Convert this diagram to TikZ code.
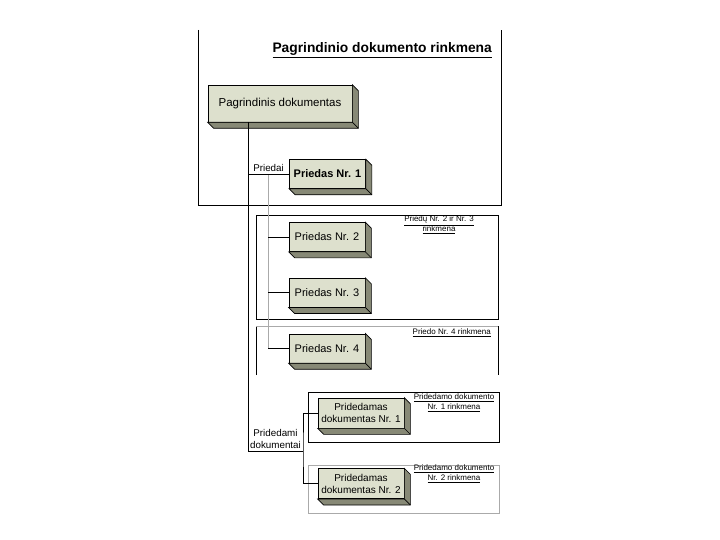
\documentclass[tikz,border=0pt]{standalone}
\usepackage{fontspec}
\setmainfont{Liberation Sans}
\usetikzlibrary{positioning,calc}
\definecolor{boxface}{RGB}{221,224,205}
\definecolor{boxside}{RGB}{135,137,118}
\definecolor{framegray}{RGB}{170,170,170}

\begin{document}
\begin{tikzpicture}[x=1pt,y=-1pt,
 every node/.style={align=center,inner sep=1pt},
 docbox/.style={draw,fill=boxface,line width=0.7pt,minimum width=76pt,minimum height=29pt,font=\fontsize{11}{13}\selectfont},
 wide/.style={minimum width=86pt,minimum height=30pt,font=\fontsize{10}{12.5}\selectfont},
 link/.style={line width=0.8pt},
 sublink/.style={line width=0.8pt,draw=framegray},
 frame/.style={line width=0.8pt},
 tag/.style={font=\fontsize{8}{10}\selectfont},
 lbl/.style={font=\fontsize{9.8}{12}\selectfont,inner sep=2pt}
]
\useasboundingbox (0,0) rectangle (720,540);
\draw[frame] (198,30) |- (501,205) -- (501,30);
\draw[frame] (256,215) rectangle (498,319);
\draw[frame] (256,375) -- (256,326) (498,326) -- (498,375);
\draw[frame,framegray] (256,326) -- (498,326);
\draw[frame] (308,392) rectangle (499,442);
\draw[frame,framegray] (308,465) rectangle (499,513);
\node[anchor=east,font=\bfseries\fontsize{13.8}{16}\selectfont] (title) at (493,50) {\underline{Pagrindinio dokumento rinkmena}};
\node[tag] (t23) at (439,225) {\underline{Priedų Nr. 2 ir Nr. 3}\\\underline{rinkmena}};
\node[tag,anchor=east] (t4) at (492,333) {\underline{Priedo Nr. 4 rinkmena}};
\node[tag] (td1) at (454,403) {\underline{Pridedamo dokumento}\\\underline{Nr. 1 rinkmena}};
\node[tag] (td2) at (454,474) {\underline{Pridedamo dokumento}\\\underline{Nr. 2 rinkmena}};
\node[docbox,minimum width=144pt,minimum height=37pt,font=\fontsize{11.5}{14}\selectfont] (main) at (280,103.5) {Pagrindinis dokumentas};
\node[docbox,font=\bfseries\fontsize{11}{13}\selectfont] (p1) at (327.5,174) {Priedas Nr. 1};
\node[docbox] (p2) at (327,237) {Priedas Nr. 2};
\node[docbox,below=26pt of p2] (p3) {Priedas Nr. 3};
\node[docbox,below=26pt of p3] (p4) {Priedas Nr. 4};
\node[docbox,wide] (d1) at (361,413) {Pridedamas\\dokumentas Nr. 1};
\node[docbox,wide,below=40pt of d1] (d2) {Pridedamas\\dokumentas Nr. 2};
\foreach \b in {main,p1,p2,p3,p4,d1,d2} {
  \filldraw[fill=boxside,line width=0.7pt] (\b.north east) -- ++(6,6) -- ([shift={(6,6)}]\b.south east) -- ([shift={(6,6)}]\b.south west) -- (\b.south west) -- (\b.south east) -- cycle;
  \draw[line width=0.7pt] (\b.south east) -- ++(6,6);
}
\coordinate (spine) at ([xshift=-32pt]main.south);
\coordinate (dj) at (303,451);
\coordinate (pj) at ($(spine |- p1.west)+(20,0)$);
\draw[link] (spine) |- node[lbl,pos=0.75,above] (pdlbl) {Pridedami\\dokumentai} (dj);
\draw[link] (d1.west) -| (dj) |- (d2.west);
\draw[sublink] (pj) -- (pj |- p4.west);
\draw[link] (spine |- p1.west) -- node[lbl,above] (plbl) {Priedai} (p1.west);
\foreach \p in {p2,p3,p4}
  \draw[link] (pj |- \p.west) -- (\p.west);
\end{tikzpicture}
\end{document}
